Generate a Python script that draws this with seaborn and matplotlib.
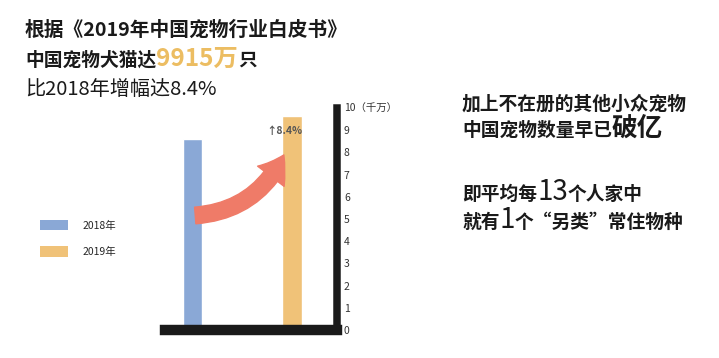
import matplotlib
matplotlib.use("Agg")
import matplotlib.pyplot as plt
import seaborn as sns
import pandas as pd
from matplotlib.patches import Patch, FancyArrowPatch

# === Data (unit: 千万) ===
years = ["2018年", "2019年"]
pet_counts = [8.6, 9.65]
bar_colors = ["#8aa8d6", "#f0c278"]
y_ticks = list(range(11))
y_tick_labels = [str(v) for v in range(10)] + ["10（千万）"]
growth_label = "↑8.4%"

left_lines = [
    [("根据《2019年中国宠物行业白皮书》", 14.2, "#1a1a1a", "bold")],
    [("中国宠物犬猫达", 13.5, "#1a1a1a", "bold"), ("9915万", 17.5, "#ecbd62", "bold"),
     ("只", 13.5, "#1a1a1a", "bold")],
    [("比2018年增幅达8.4%", 14.5, "#1a1a1a", "normal")],
]
right_lines = [
    [("加上不在册的其他小众宠物", 13.5, "#1a1a1a", "bold")],
    [("中国宠物数量早已", 13.5, "#1a1a1a", "bold"), ("破亿", 18.5, "#1a1a1a", "bold")],
    [("即平均每", 13.5, "#1a1a1a", "bold"), ("13", 20, "#1a1a1a", "normal"),
     ("个人家中", 13.5, "#1a1a1a", "bold")],
    [("就有", 13.5, "#1a1a1a", "bold"), ("1", 20, "#1a1a1a", "normal"),
     ("个“另类”常住物种", 13.5, "#1a1a1a", "bold")],
]

df = pd.DataFrame({"year": years, "count": pet_counts})

# === Figure ===
W, H = 719, 358
sns.set_theme(style="white")
plt.rcParams["font.family"] = ["Noto Sans CJK SC", "DejaVu Sans"]
fig = plt.figure(figsize=(W / 100, H / 100), dpi=100)
fig.patch.set_facecolor("white")

# axes box in pixel terms: left 165, right 337, baseline 330, value 10 at 108
ax = fig.add_axes([165 / W, (H - 330) / H, (337 - 165) / W, (330 - 108) / H])
ax.set_facecolor("none")

sns.barplot(data=df, x="year", y="count", hue="year", palette=bar_colors,
            width=0.2, legend=False, ax=ax, saturation=1)

ax.set_xlim(-0.276, 1.452)
ax.set_ylim(0, 10)
ax.set_xlabel("")
ax.set_ylabel("")
ax.set_xticks([])
ax.yaxis.tick_right()
ax.set_yticks(y_ticks)
ax.set_yticklabels(y_tick_labels)
ax.tick_params(axis="y", length=0, pad=5, labelsize=7.5, labelcolor="#333333")

for side in ["top", "left"]:
    ax.spines[side].set_visible(False)
ax.spines["right"].set_linewidth(5.4)
ax.spines["bottom"].set_linewidth(7.5)
for side in ["right", "bottom"]:
    ax.spines[side].set_color("#1a1a1a")
    ax.spines[side].set_capstyle("projecting")
    ax.spines[side].set_zorder(5)

# growth arrow between the bars
arrow = FancyArrowPatch((0.0, 5.15), (0.93, 8.0),
                        connectionstyle="arc3,rad=0.3",
                        arrowstyle="simple,head_width=2.4,head_length=1.8,tail_width=1.2",
                        mutation_scale=10, color="#ef7b68", zorder=4)
ax.add_patch(arrow)
ax.text(0.925, 8.96, growth_label, ha="center", va="center", fontsize=7.5,
        color="#555555", fontweight="bold", zorder=6)

# legend on the left
handles = [Patch(facecolor=c, edgecolor="none") for c in bar_colors]
fig.legend(handles, years, loc="upper left", bbox_to_anchor=(40 / W, 1 - 220 / H),
           frameon=False, fontsize=7.5, handlelength=2.7, handleheight=1.15,
           labelspacing=1.5, handletextpad=1.35, borderpad=0, borderaxespad=0)

# === Mixed-size text lines ===
fig.canvas.draw()
renderer = fig.canvas.get_renderer()


def draw_line(x_px, base_px, parts):
    x = x_px
    for txt, size, color, weight in parts:
        t = fig.text(x / W, 1 - base_px / H, txt, fontsize=size, color=color,
                     fontweight=weight, ha="left", va="baseline")
        x = t.get_window_extent(renderer).x1


for line, base in zip(left_lines, [36, 66, 95]):
    draw_line(25, base, line)
for line, base in zip(right_lines, [110, 136, 200, 228]):
    draw_line(462, base, line)

fig.savefig("out.png", dpi=100, facecolor="white")
